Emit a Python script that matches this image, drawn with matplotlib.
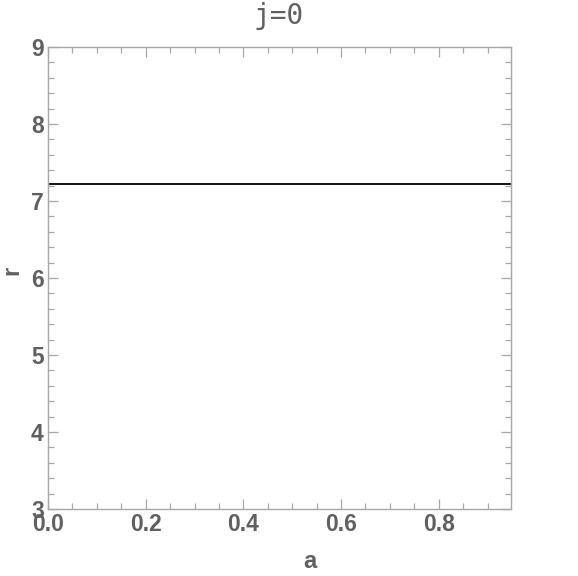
import numpy as np
import matplotlib
matplotlib.use("Agg")
import matplotlib.pyplot as plt
from matplotlib.ticker import MultipleLocator

# data
a_vals = [0.0, 0.948]
r_vals = [7.22, 7.22]
x_ticks = [0.0, 0.2, 0.4, 0.6, 0.8]
y_ticks = [3, 4, 5, 6, 7, 8, 9]

grey = "#606060"
frame = "#a8a8a8"
lab_font = ["Liberation Sans", "DejaVu Sans"]

fig = plt.figure(figsize=(5.78, 5.76), dpi=100)
ax = fig.add_axes([48 / 578, 1 - 509 / 576, (511 - 48) / 578, (509 - 47) / 576])

ax.plot(a_vals, r_vals, color="black", lw=1.3)

ax.set_xlim(0, 0.948)
ax.set_ylim(3, 9)
ax.set_xticks(x_ticks)
ax.set_yticks(y_ticks)
ax.xaxis.set_minor_locator(MultipleLocator(0.05))
ax.yaxis.set_minor_locator(MultipleLocator(0.2))
ax.tick_params(which="both", direction="in", top=True, right=True,
               color=frame, width=0.9, labelcolor=grey, labelsize=16.5)
ax.tick_params(which="major", length=7)
ax.tick_params(which="minor", length=4)
ax.tick_params(axis="x", pad=3)
ax.tick_params(axis="y", pad=3)
ax.set_xticklabels([f"{v:.1f}" for v in x_ticks], fontweight="bold", family=lab_font)
ax.set_yticklabels([str(v) for v in y_ticks], fontweight="bold", family=lab_font)
for s in ax.spines.values():
    s.set_color(frame)
    s.set_linewidth(1.0)

fig.text(310 / 578, 1 - 562 / 576, "a", ha="center", va="center", fontsize=17,
         fontweight="bold", color=grey, family=lab_font)
fig.text(12 / 578, 1 - 270 / 576, "r", ha="center", va="center", fontsize=17,
         fontweight="bold", color=grey, family=lab_font, rotation=90)
fig.text(279 / 578, 1 - 16 / 576, "j=0", ha="center", va="center", fontsize=20,
         color=grey, family=["DejaVu Sans Mono"])

fig.savefig("out.png", dpi=100)
